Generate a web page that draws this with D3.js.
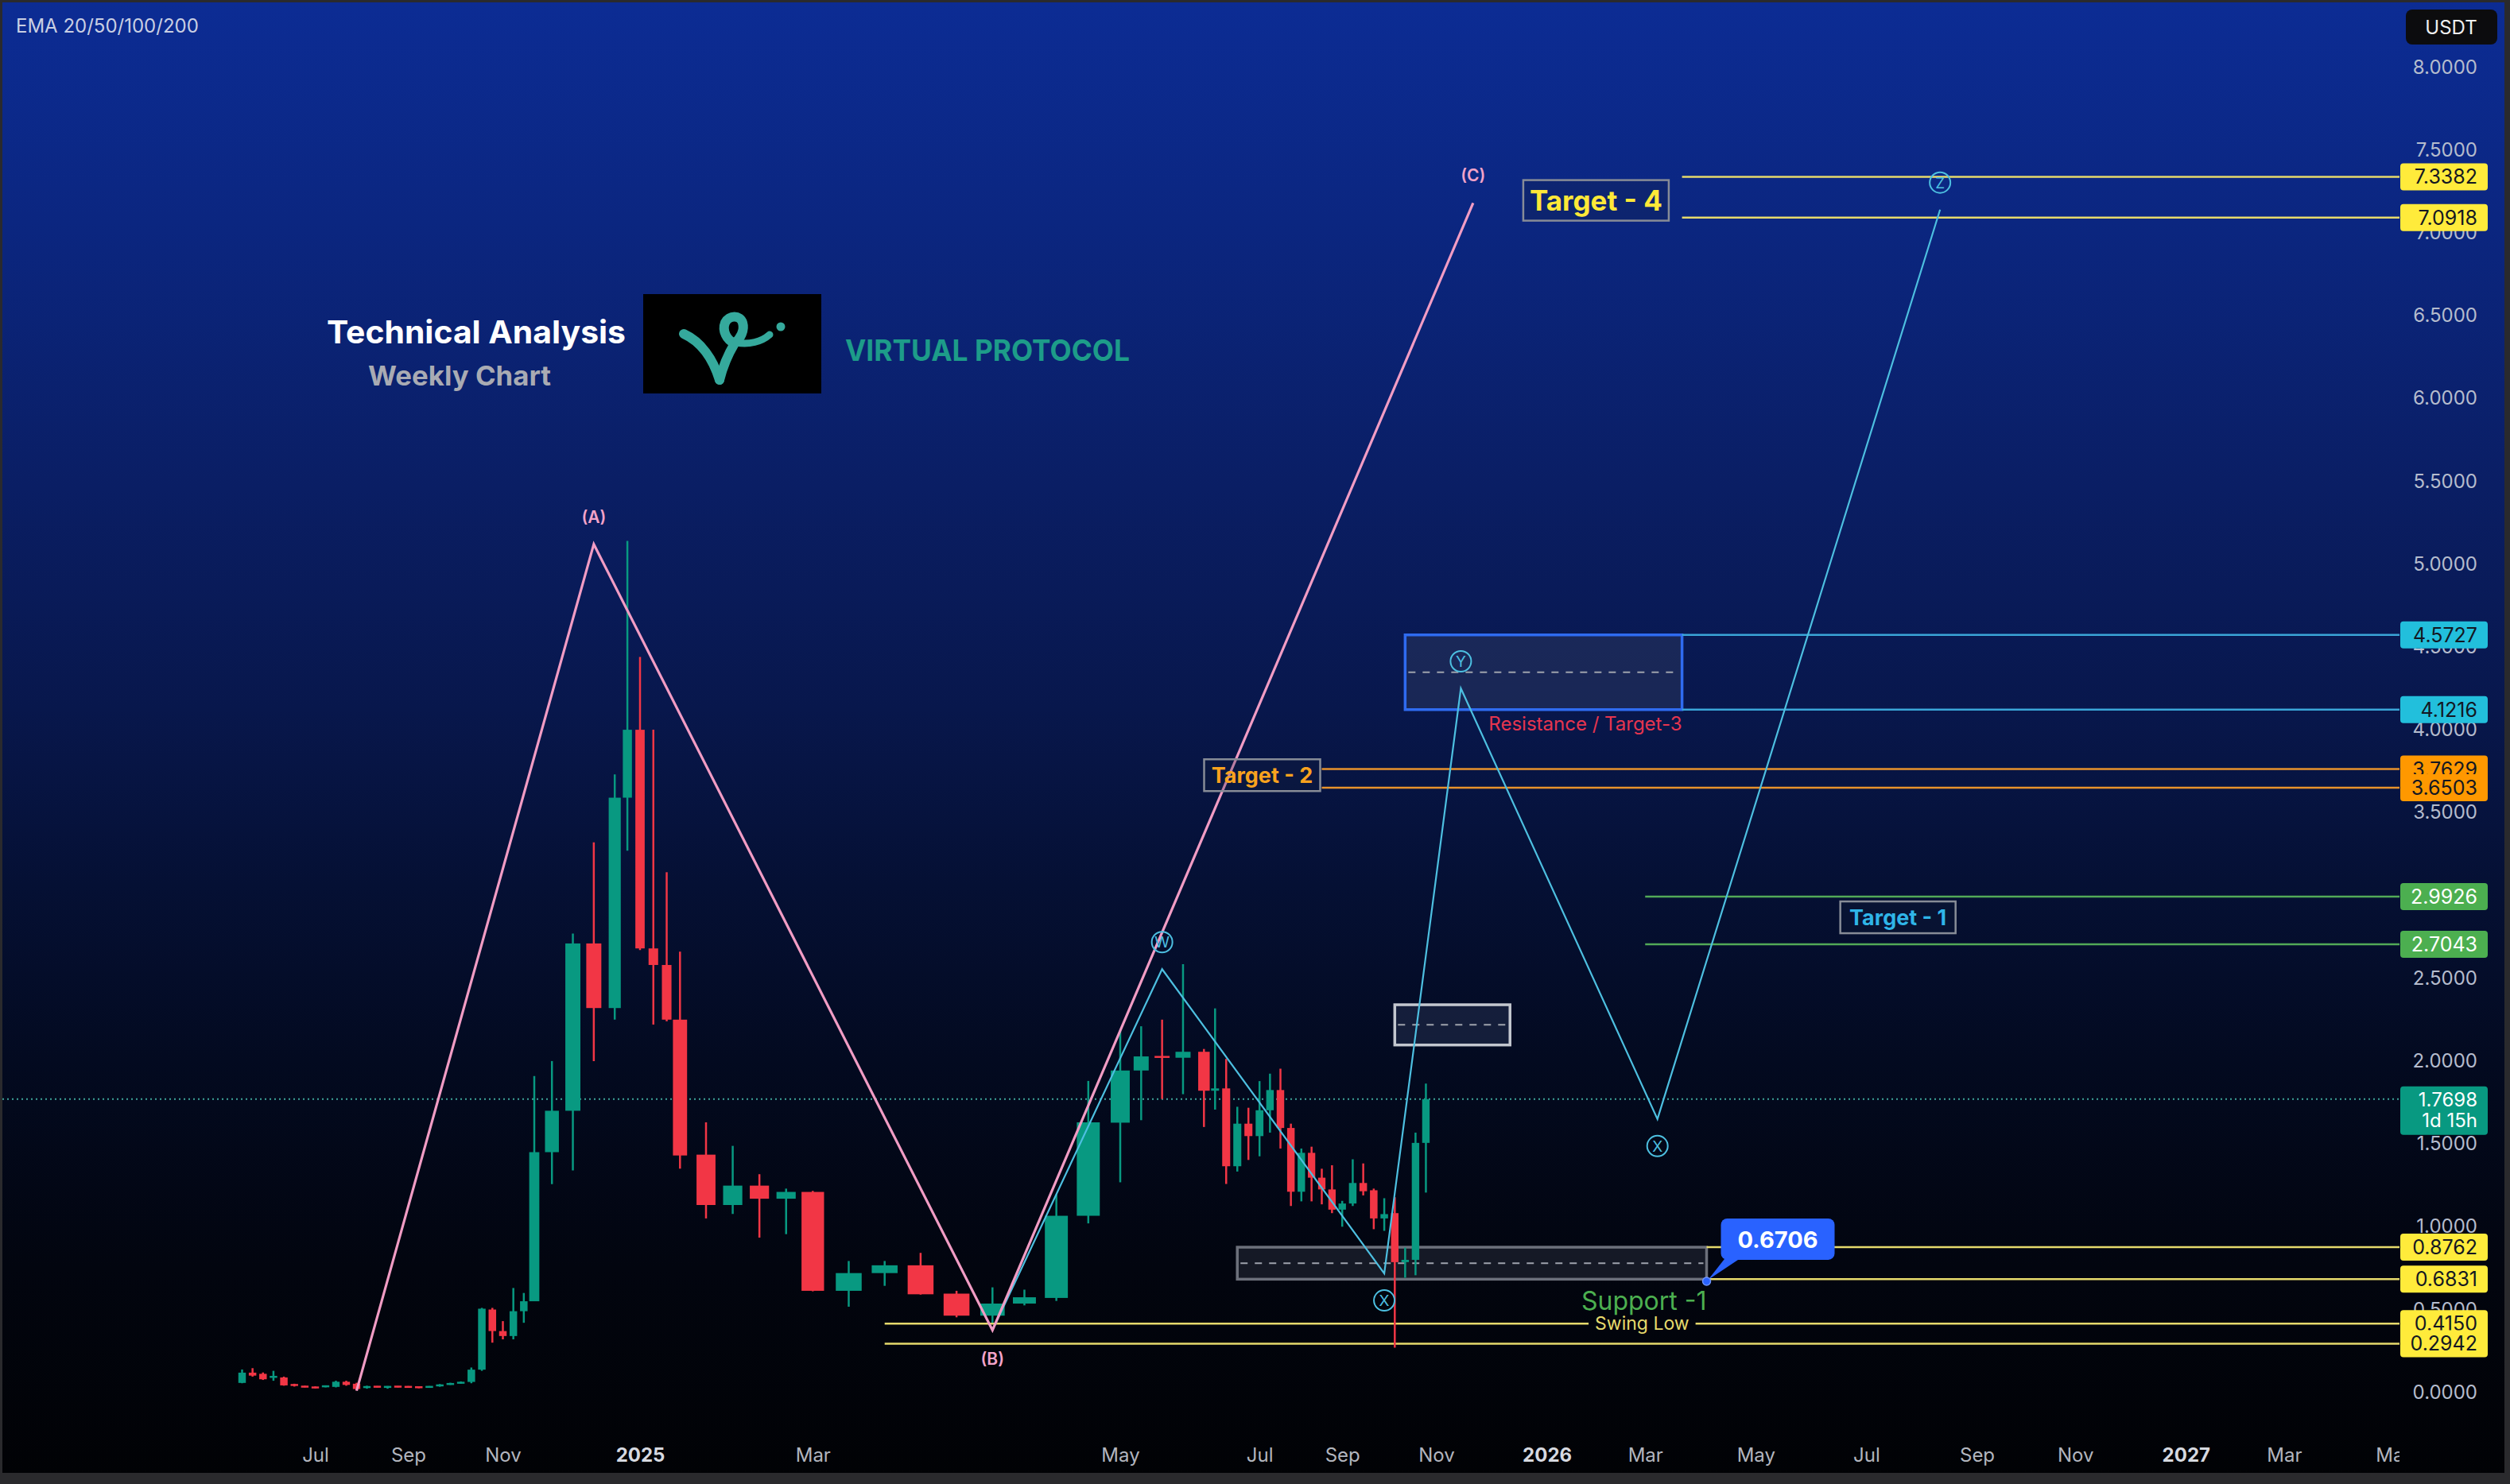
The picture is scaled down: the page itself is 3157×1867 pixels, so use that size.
<!DOCTYPE html>
<html><head><meta charset="utf-8">
<script src="https://cdn.jsdelivr.net/npm/d3@7"></script>
<style>html,body{margin:0;padding:0;background:#232326;overflow:hidden}svg{display:block}text{font-family:Inter,"Noto Sans",sans-serif}</style>
</head><body>
<svg id="chart" width="3157" height="1867"></svg>
<script>
// ---------------- DATA ----------------
const candleDates = [
"2024-05-13","2024-05-20","2024-05-27","2024-06-03","2024-06-10","2024-06-17","2024-06-24","2024-07-01","2024-07-08","2024-07-15",
"2024-07-22","2024-07-29","2024-08-05","2024-08-12","2024-08-19","2024-08-26","2024-09-02","2024-09-09","2024-09-16","2024-09-23",
"2024-09-30","2024-10-07","2024-10-14","2024-10-21","2024-10-28","2024-11-04","2024-11-11","2024-11-18","2024-11-25","2024-12-02",
"2024-12-09","2024-12-16","2024-12-23","2024-12-30","2025-01-06","2025-01-13","2025-01-20","2025-01-27","2025-02-03","2025-02-10",
"2025-02-17","2025-02-24","2025-03-03","2025-03-10","2025-03-17","2025-03-24","2025-03-31","2025-04-07","2025-04-14","2025-04-21",
"2025-04-28","2025-05-05","2025-05-12","2025-05-19","2025-05-26","2025-06-02","2025-06-09","2025-06-16","2025-06-23","2025-06-30",
"2025-07-07","2025-07-14","2025-07-21","2025-07-28","2025-08-04","2025-08-11","2025-08-18","2025-08-25","2025-09-01","2025-09-08",
"2025-09-15","2025-09-22","2025-09-29","2025-10-06","2025-10-13","2025-10-20","2025-10-27"];
const opens = [0.057,0.119,0.112,0.090,0.090,0.050,0.036,0.033,0.033,0.033,0.064,0.052,0.030,0.036,0.031,0.036,0.036,0.034,0.030,0.037,
0.047,0.054,0.063,0.137,0.500,0.370,0.340,0.490,0.550,1.450,1.700,2.710,2.320,3.590,4.000,2.680,2.580,2.250,1.435,1.131,
1.248,1.169,1.210,0.613,0.720,0.767,0.596,0.463,0.536,0.570,1.066,1.628,1.943,2.030,2.020,2.056,1.821,1.835,1.365,1.622,
1.547,1.703,1.825,1.596,1.211,1.446,1.296,1.225,1.103,1.140,1.264,1.220,1.050,1.082,0.786,0.800,1.506];
const highs = [0.138,0.146,0.120,0.130,0.095,0.052,0.040,0.036,0.042,0.070,0.070,0.058,0.040,0.038,0.038,0.038,0.038,0.036,0.038,0.050,
0.058,0.066,0.150,0.510,0.510,0.430,0.630,0.600,1.910,2.000,2.770,3.320,3.730,5.140,4.440,4.000,3.140,2.660,1.630,1.488,
1.317,1.230,1.216,0.793,0.793,0.842,0.613,0.634,0.620,1.195,1.880,2.185,2.210,2.250,2.585,2.073,2.318,2.013,1.724,1.718,
1.879,1.924,1.954,1.622,1.472,1.483,1.350,1.371,1.156,1.407,1.382,1.230,1.172,1.178,0.874,1.568,1.864];
const lows = [0.055,0.095,0.075,0.070,0.040,0.035,0.030,0.024,0.030,0.030,0.040,0.012,0.022,0.030,0.022,0.030,0.028,0.025,0.028,0.034,
0.045,0.052,0.055,0.130,0.300,0.320,0.320,0.420,0.550,1.257,1.340,2.000,2.250,3.270,2.670,2.220,2.240,1.350,1.050,1.077,
0.934,0.955,0.610,0.517,0.643,0.590,0.453,0.420,0.525,0.552,1.020,1.268,1.643,1.771,1.800,1.602,1.707,1.258,1.333,1.403,
1.425,1.568,1.472,1.125,1.153,1.153,1.135,1.082,1.000,1.125,1.189,0.985,0.975,0.270,0.692,0.707,1.206];
const closes = [0.119,0.101,0.079,0.097,0.042,0.039,0.033,0.026,0.040,0.064,0.045,0.020,0.034,0.032,0.035,0.033,0.030,0.028,0.036,0.047,
0.054,0.062,0.137,0.505,0.370,0.340,0.490,0.550,1.450,1.700,2.710,2.320,3.590,4.000,2.680,2.580,2.250,1.430,1.131,1.248,
1.169,1.210,0.613,0.720,0.767,0.592,0.463,0.536,0.574,1.066,1.630,1.943,2.028,2.020,2.056,1.821,1.835,1.365,1.622,1.547,
1.703,1.825,1.596,1.211,1.446,1.296,1.225,1.103,1.140,1.264,1.214,1.050,1.076,0.786,0.800,1.506,1.770];

const priceTicks = [0,0.5,1,1.5,2,2.5,3,3.5,4,4.5,5,5.5,6,6.5,7,7.5,8];
const timeTickDates = ["2024-07-01","2024-09-02","2024-11-04","2025-01-06","2025-03-03","2025-05-05","2025-07-07","2025-09-01",
"2025-11-03","2026-01-05","2026-03-02","2026-05-04","2026-07-06","2026-09-07","2026-11-02","2027-01-04","2027-03-01","2027-05-03"];
const timeTickLabels = ["Jul","Sep","Nov","2025","Mar","May","Jul","Sep","Nov","2026","Mar","May","Jul","Sep","Nov","2027","Mar","May"];

const abcDates = ["2024-07-29","2024-12-16","2025-04-07","2025-11-24"];
const abcValues = [0.01,5.12,0.375,7.18];
const abcLabels = ["","(A)","(B)","(C)"];

const wxyzDates = ["2025-04-07","2025-05-19","2025-09-29","2025-11-17","2026-03-09","2026-08-17"];
const wxyzValues = [0.375,2.555,0.718,4.25,1.65,7.14];
const wxyzLabels = ["","W","X","Y","X","Z"];

const lastPrice = 1.7698;
const lastPriceCountdown = "1d 15h";
const target4Levels = [7.3382,7.0918];
const resistanceLevels = [4.5727,4.1216];
const target2Levels = [3.7629,3.6503];
const target1Levels = [2.9926,2.7043];
const rangeBoxLevels = [2.34,2.097];
const supportLevels = [0.8762,0.6831];
const swingLowLevels = [0.4150,0.2942];
const calloutValue = 0.6706;

// ---------------- LAYOUT / SCALES ----------------
const W = 3157, H = 1867, plotRight = 3018;
const parse = d3.utcParse("%Y-%m-%d");
const timeScaleStops = [
 ["2024-05-13",304.5],["2024-07-01",396.5],["2024-09-02",513.5],["2024-11-04",632.5],["2024-11-25",672],
 ["2024-12-02",694.2],["2024-12-23",773.2],["2025-01-06",805],["2025-01-27",855.3],["2025-02-03",888],
 ["2025-03-03",1022.3],["2025-04-07",1248.3],["2025-05-05",1409],["2025-06-02",1514.3],["2025-07-07",1584.2],
 ["2025-08-04",1636.8],["2025-09-01",1688.2],["2025-10-06",1754.3],["2025-11-03",1806.5],["2027-05-03",3012]];
const x = d3.scaleUtc().domain(timeScaleStops.map(s=>parse(s[0]))).range(timeScaleStops.map(s=>s[1]));
const y = d3.scaleLinear().domain([0,8]).range([1751.7,84.5]);
const DAY = 86400000;
const X = s => x(parse(s));

const svg = d3.select("#chart");
const defs = svg.append("defs");
const grad = defs.append("linearGradient").attr("id","bg").attr("x1",0).attr("y1",0).attr("x2",0).attr("y2",1);
[[0,"rgb(12,44,148)"],[0.15,"rgb(11,38,128)"],[0.33,"rgb(10,30,100)"],[0.48,"rgb(8,23,76)"],[0.6,"rgb(5,16,52)"],
 [0.72,"rgb(3,10,32)"],[0.86,"rgb(2,5,15)"],[1,"rgb(1,2,5)"]].forEach(s=>grad.append("stop").attr("offset",s[0]).attr("stop-color",s[1]));
defs.append("clipPath").attr("id","plotclip").append("rect").attr("x",0).attr("y",0).attr("width",plotRight).attr("height",H);

svg.append("rect").attr("width",W).attr("height",H).attr("fill","#2a2a2d");
svg.append("rect").attr("x",3).attr("y",3).attr("width",3147).attr("height",1850).attr("fill","url(#bg)");

// EMA legend
svg.append("text").attr("x",20).attr("y",41).attr("font-size",24).attr("fill","#c9cfe3").text("EMA 20/50/100/200");

// Title block
svg.append("text").attr("x",411).attr("y",432).attr("font-size",40).attr("font-weight",700).attr("fill","#ffffff")
  .attr("textLength",376).attr("lengthAdjust","spacingAndGlyphs").text("Technical Analysis");
svg.append("text").attr("x",463).attr("y",485).attr("font-size",34).attr("font-weight",700).attr("fill","#a9abb3")
  .attr("textLength",230).attr("lengthAdjust","spacingAndGlyphs").text("Weekly Chart");
svg.append("rect").attr("x",809).attr("y",370).attr("width",224).attr("height",125).attr("fill","#000");
const logo = svg.append("g").attr("fill","none").attr("stroke","#35a99c").attr("stroke-linecap","round").attr("stroke-width",12);
logo.append("path").attr("d","M860,420 C882,430 897,452 905,478");
logo.append("path").attr("d","M905,478 C910,458 918,442 924,432 C914,428 908,416 912,406 C917,396 931,396 934,406 C937,416 931,426 924,432");
logo.append("path").attr("stroke-width",9).attr("d","M926,431 C942,434 958,430 968,421");
svg.append("circle").attr("cx",982).attr("cy",411).attr("r",5.5).attr("fill","#35a99c");
svg.append("text").attr("x",1063).attr("y",454).attr("font-size",37).attr("font-weight",700).attr("fill","#1d9c89")
  .attr("textLength",358).attr("lengthAdjust","spacingAndGlyphs").text("VIRTUAL PROTOCOL");

// ---------------- ZONES / BOXES ----------------
const zones = svg.append("g");
function box(d0,d1,v0,v1,stroke,fill,sw){
  const x0=X(d0), x1=X(d1), y0=y(v0), y1=y(v1);
  zones.append("rect").attr("x",x0).attr("y",y0).attr("width",x1-x0).attr("height",y1-y0)
    .attr("fill",fill).attr("stroke",stroke).attr("stroke-width",sw);
  zones.append("line").attr("x1",x0+4).attr("x2",x1-4).attr("y1",(y0+y1)/2).attr("y2",(y0+y1)/2)
    .attr("stroke","#9ea3ad").attr("stroke-width",2).attr("stroke-dasharray","9,9");
}
box("2025-06-23","2026-04-06",supportLevels[0],supportLevels[1],"#6c707b","rgba(38,42,56,0.55)",3.5);
box("2025-10-06","2025-12-15",rangeBoxLevels[0],rangeBoxLevels[1],"#c3c7cf","rgba(28,38,68,0.7)",3.5);
box("2025-10-13","2026-03-23",resistanceLevels[0],resistanceLevels[1],"#2f6bf0","rgba(40,52,92,0.55)",3.5);

// ---------------- LEVEL LINES ----------------
const levels = svg.append("g");
function hline(d0,v,color,w){ levels.append("line").attr("x1",X(d0)).attr("x2",plotRight).attr("y1",y(v)).attr("y2",y(v)).attr("stroke",color).attr("stroke-width",w); }
target4Levels.forEach(v=>hline("2026-03-23",v,"#e6da6c",2.5));
resistanceLevels.forEach(v=>hline("2026-03-23",v,"#3aa6d8",2.5));
target2Levels.forEach(v=>hline("2025-08-18",v,"#e8922c",2.5));
target1Levels.forEach(v=>hline("2026-03-02",v,"#52a957",2.5));
supportLevels.forEach(v=>hline("2026-04-06",v,"#e6da6c",2.5));
{
  const x0=X("2025-03-17"), xm=(x0+plotRight)/2;
  const t = levels.append("text").attr("x",xm).attr("y",y(swingLowLevels[0])+8).attr("text-anchor","middle")
    .attr("font-size",23).attr("fill","#e6da6c").text("Swing Low");
  const tw = t.node().getComputedTextLength();
  levels.append("line").attr("x1",x0).attr("x2",xm-tw/2-8).attr("y1",y(swingLowLevels[0])).attr("y2",y(swingLowLevels[0])).attr("stroke","#e6da6c").attr("stroke-width",2.5);
  levels.append("line").attr("x1",xm+tw/2+8).attr("x2",plotRight).attr("y1",y(swingLowLevels[0])).attr("y2",y(swingLowLevels[0])).attr("stroke","#e6da6c").attr("stroke-width",2.5);
  levels.append("line").attr("x1",x0).attr("x2",plotRight).attr("y1",y(swingLowLevels[1])).attr("y2",y(swingLowLevels[1])).attr("stroke","#e6da6c").attr("stroke-width",2.5);
}
svg.append("line").attr("x1",3).attr("x2",plotRight).attr("y1",y(lastPrice)).attr("y2",y(lastPrice))
  .attr("stroke","#3fa59a").attr("stroke-width",2).attr("stroke-dasharray","2,4");

// ---------------- CANDLES ----------------
const candles = candleDates.map((d,i)=>({d:parse(d),o:opens[i],h:highs[i],l:lows[i],c:closes[i]}));
const cg = svg.append("g");
candles.forEach(k=>{
  const cx = x(k.d);
  const sp = x(new Date(+k.d+3.5*DAY)) - x(new Date(+k.d-3.5*DAY));
  const bw = Math.max(3, sp*0.72);
  const col = k.c >= k.o ? "#089981" : "#f23645";
  cg.append("line").attr("x1",cx).attr("x2",cx).attr("y1",y(k.h)).attr("y2",y(k.l)).attr("stroke",col).attr("stroke-width",2.5);
  const top = y(Math.max(k.o,k.c)), bot = y(Math.min(k.o,k.c));
  const hgt = Math.max(2.5, bot-top);
  cg.append("rect").attr("x",cx-bw/2).attr("y",(top+bot)/2-hgt/2).attr("width",bw).attr("height",hgt).attr("fill",col);
});

// ---------------- WAVES ----------------
const line = d3.line().x(d=>x(d.d)).y(d=>y(d.v));
const wxyz = wxyzDates.map((d,i)=>({d:parse(d),v:wxyzValues[i],lab:wxyzLabels[i]}));
const abc = abcDates.map((d,i)=>({d:parse(d),v:abcValues[i],lab:abcLabels[i]}));
svg.append("path").datum(wxyz).attr("d",line).attr("fill","none").attr("stroke","#4dbfe0").attr("stroke-width",2.2);
svg.append("path").datum(abc).attr("d",line).attr("fill","none").attr("stroke","#f19cc4").attr("stroke-width",3.2);
wxyz.forEach((p,i)=>{
  if(!p.lab) return;
  const up = p.v > wxyz[i-1].v;
  const cy = y(p.v) + (up ? -34 : 34);
  svg.append("circle").attr("cx",x(p.d)).attr("cy",cy).attr("r",13).attr("fill","none").attr("stroke","#4dbfe0").attr("stroke-width",2);
  svg.append("text").attr("x",x(p.d)).attr("y",cy+7).attr("text-anchor","middle").attr("font-size",19).attr("fill","#4dbfe0").text(p.lab);
});
abc.forEach((p,i)=>{
  if(!p.lab) return;
  const up = p.v > abc[i-1].v;
  const cy = y(p.v) + (up ? -34 : 36);
  svg.append("text").attr("x",x(p.d)).attr("y",cy+7).attr("text-anchor","middle").attr("font-size",21).attr("font-weight",600).attr("fill","#f2a3c9").text(p.lab);
});

// ---------------- TEXT LABELS ----------------
function tagBox(cx,cy,w,h,txt,color,fs){
  svg.append("rect").attr("x",cx-w/2).attr("y",cy-h/2).attr("width",w).attr("height",h).attr("fill","rgba(20,30,60,0.25)").attr("stroke","#878c97").attr("stroke-width",2.5);
  svg.append("text").attr("x",cx).attr("y",cy+fs*0.36).attr("text-anchor","middle").attr("font-size",fs).attr("font-weight",700).attr("fill",color).text(txt);
}
tagBox(X("2026-02-02"), y((target4Levels[0]+target4Levels[1])/2)+4, 183, 51, "Target - 4", "#ffe838", 35);
tagBox(X("2025-08-18")-75, y((target2Levels[0]+target2Levels[1])/2)-4, 146, 40, "Target - 2", "#f9a21e", 27);
tagBox(X("2026-07-24"), y((target1Levels[0]+target1Levels[1])/2)-4, 145, 40, "Target - 1", "#2fb5e8", 27);
svg.append("text").attr("x",X("2026-03-23")).attr("y",y(resistanceLevels[1])+26).attr("text-anchor","end").attr("font-size",24).attr("fill","#e5354f").text("Resistance / Target-3");
svg.append("text").attr("x",X("2026-04-06")).attr("y",y(supportLevels[1])+39).attr("text-anchor","end").attr("font-size",32).attr("fill","#4caf50").text("Support -1");

{
  const px = X("2026-04-06"), py = y(calloutValue);
  svg.append("path").attr("d",`M${px+24},${py-30} L${px+44},${py-30} L${px+2},${py-2} Z`).attr("fill","#2962ff");
  svg.append("rect").attr("x",px+18).attr("y",py-79).attr("width",143).attr("height",52).attr("rx",8).attr("fill","#2962ff");
  svg.append("text").attr("x",px+89.5).attr("y",py-42).attr("text-anchor","middle").attr("font-size",29).attr("font-weight",700).attr("fill","#fff").text(calloutValue.toFixed(4));
  svg.append("circle").attr("cx",px).attr("cy",py).attr("r",5).attr("fill","#2962ff").attr("stroke","#6f94ff").attr("stroke-width",1.5);
}

// ---------------- AXES ----------------
const yAxis = d3.axisRight(y).tickValues(priceTicks).tickFormat(d3.format(".4f")).tickSize(0);
const ya = svg.append("g").attr("transform","translate(3116,0)").call(yAxis);
ya.select(".domain").remove();
ya.selectAll("text").attr("x",0).attr("text-anchor","end").attr("font-size",24).attr("fill","#b5bccd").style("font-family","Inter,'Noto Sans',sans-serif");

const xAxis = d3.axisBottom(x).tickValues(timeTickDates.map(parse)).tickFormat((d,i)=>timeTickLabels[i]).tickSize(0).tickPadding(10);
const xa = svg.append("g").attr("clip-path","url(#plotclip)").append("g").attr("transform","translate(0,1812)").call(xAxis);
xa.select(".domain").remove();
xa.selectAll("text").attr("font-size",24).style("font-family","Inter,'Noto Sans',sans-serif")
  .attr("fill",(d,i)=>/^\d{4}$/.test(timeTickLabels[i])?"#d6d9e0":"#b2b5be")
  .attr("font-weight",(d,i)=>/^\d{4}$/.test(timeTickLabels[i])?700:400);

svg.append("rect").attr("x",3026).attr("y",12).attr("width",115).attr("height",44).attr("rx",8).attr("fill","#0c0c0e");
svg.append("text").attr("x",3083).attr("y",43).attr("text-anchor","middle").attr("font-size",24).attr("fill","#f0f0f0").text("USDT");

const tags = [];
target4Levels.forEach(v=>tags.push({v,bg:"#ffeb3b",fg:"#131722"}));
resistanceLevels.forEach(v=>tags.push({v,bg:"#22bfdc",fg:"#131722"}));
target2Levels.forEach(v=>tags.push({v,bg:"#ff9800",fg:"#131722"}));
target1Levels.forEach(v=>tags.push({v,bg:"#4caf50",fg:"#ffffff"}));
supportLevels.forEach(v=>tags.push({v,bg:"#ffeb3b",fg:"#131722"}));
swingLowLevels.forEach(v=>tags.push({v,bg:"#ffeb3b",fg:"#131722"}));
tags.forEach(t=>{
  svg.append("rect").attr("x",3019).attr("y",y(t.v)-17).attr("width",110).attr("height",34).attr("rx",4).attr("fill",t.bg);
  svg.append("text").attr("x",3116).attr("y",y(t.v)+9).attr("text-anchor","end").attr("font-size",25).attr("fill",t.fg).text(t.v.toFixed(4));
});
svg.append("rect").attr("x",3019).attr("y",y(lastPrice)-16).attr("width",110).attr("height",61).attr("rx",4).attr("fill","#089981");
svg.append("text").attr("x",3116).attr("y",y(lastPrice)+9).attr("text-anchor","end").attr("font-size",24).attr("fill","#ffffff").text(lastPrice.toFixed(4));
svg.append("text").attr("x",3116).attr("y",y(lastPrice)+35).attr("text-anchor","end").attr("font-size",24).attr("fill","#ffffff").text(lastPriceCountdown);
</script>
</body></html>
